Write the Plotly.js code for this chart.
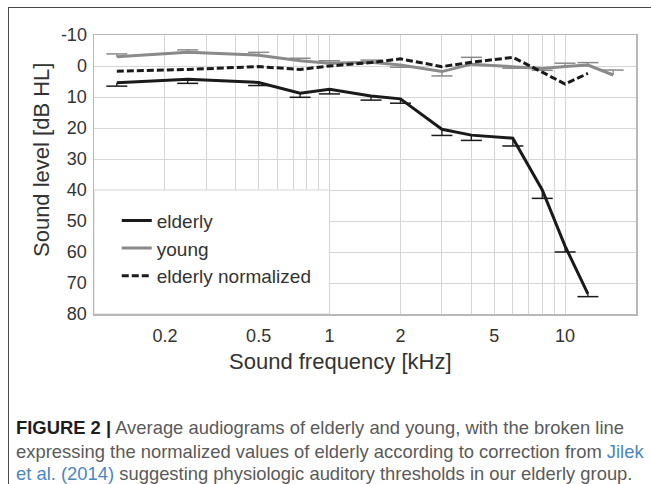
<!DOCTYPE html>
<html>
<head>
<meta charset="utf-8">
<script src="https://cdn.plot.ly/plotly-3.0.1.min.js"></script>
<style>
  html, body { margin: 0; padding: 0; background: #fff; }
  #wrap { position: relative; width: 651px; height: 484px; overflow: hidden; }
  #chart { position: absolute; left: 0; top: 0; width: 651px; height: 484px; }
  #frame { position: absolute; left: 8px; top: 7px; width: 660px; height: 500px;
           border-left: 1.5px solid #4a4a4a; border-top: 1.5px solid #4a4a4a; }
  .cap { position: absolute; left: 16px; font-family: "Liberation Sans", Arial, sans-serif;
         font-size: 18.4px; color: #5a5a5a; white-space: nowrap; line-height: 18px; }
  .cap b { color: #1e1e1e; }
  .cap .ref { color: #4a86c5; }
</style>
</head>
<body>
<div id="wrap">
  <div id="frame"></div>
  <div id="chart"></div>
  <div class="cap" style="top:419px"><b>FIGURE 2 |</b> Average audiograms of elderly and young, with the broken line</div>
  <div class="cap" style="top:443px">expressing the normalized values of elderly according to correction from <span class="ref">Jilek</span></div>
  <div class="cap" style="top:465px"><span class="ref">et al. (2014)</span> suggesting physiologic auditory thresholds in our elderly group.</div>
</div>
<script>
// ---- data (kHz, dB HL) ----
const freqsElderly = [0.125, 0.25, 0.5, 0.75, 1, 1.5, 2, 3, 4, 6, 8, 10, 12.5];
const elderly      = [5.4, 4.3, 5.3, 8.8, 7.5, 9.7, 10.6, 20.4, 22.3, 23.3, 40.0, 58.1, 73.5];
const elderlyErr   = [1.1, 1.3, 1.0, 1.3, 1.5, 1.3, 1.4, 2.0, 1.7, 2.5, 2.7, 1.9, 0.9];

const freqsYoung   = [0.125, 0.25, 0.5, 0.75, 1, 1.5, 2, 3, 4, 6, 8, 10, 12.5, 16];
const young        = [-3.0, -4.4, -3.5, -1.7, -0.9, -1.2, -0.3, 1.8, -0.6, 0.2, 0.8, 0.2, -0.3, 2.9];
const youngErr     = [-0.9, -0.8, -0.9, -0.8, -0.8, -0.7, 0.7, 1.4, -2.2, 0.5, 0.6, -1.1, -0.8, -1.6];

const normalized   = [1.7, 1.1, 0.2, 1.1, 0.0, -1.1, -2.3, 0.2, -1.2, -2.8, 2.0, 5.8, 2.4];

const xTickVals  = [0.2, 0.5, 1, 2, 5, 10];
const xTickText  = ['0.2', '0.5', '1', '2', '5', '10'];
const xGridVals  = [0.1,0.2,0.3,0.4,0.5,0.6,0.7,0.8,0.9,1,2,3,4,5,6,7,8,9,10,20];
const yTickVals  = [-10, 0, 10, 20, 30, 40, 50, 60, 70, 80];
const yTickText  = ['-10', '0', '10', '20', '30', '40', '50', '60', '70', '80'];
const legendBox  = { x0: 0.1, x1: 1, y0: 40, y1: 80 };

const FONT = '"Liberation Sans", Arial, sans-serif';
const BLACK = '#1a1a1a', GRAY = '#8a8a8a';

function errSegments(xs, ys, es) {
  const x = [], y = [];
  xs.forEach((f, i) => { x.push(f, f, null); y.push(ys[i], ys[i] + es[i], null); });
  return { x, y };
}
function errEnds(ys, es) { return ys.map((v, i) => v + es[i]); }

const eSeg = errSegments(freqsElderly, elderly, elderlyErr);
const ySeg = errSegments(freqsYoung, young, youngErr);

const traces = [
  { x: eSeg.x, y: eSeg.y, mode: 'lines', line: { color: BLACK, width: 1.3 }, showlegend: false, hoverinfo: 'skip' },
  { x: freqsElderly, y: errEnds(elderly, elderlyErr), mode: 'markers', showlegend: false, hoverinfo: 'skip',
    marker: { symbol: 'line-ew', size: 15, line: { color: BLACK, width: 1.5 } } },
  { x: ySeg.x, y: ySeg.y, mode: 'lines', line: { color: GRAY, width: 1.3 }, showlegend: false, hoverinfo: 'skip' },
  { x: freqsYoung, y: errEnds(young, youngErr), mode: 'markers', showlegend: false, hoverinfo: 'skip',
    marker: { symbol: 'line-ew', size: 15, line: { color: GRAY, width: 1.5 } } },
  { x: freqsElderly, y: elderly, name: 'elderly', mode: 'lines', line: { color: BLACK, width: 3 } },
  { x: freqsYoung, y: young, name: 'young', mode: 'lines', line: { color: GRAY, width: 3 } },
  { x: freqsElderly, y: normalized, name: 'elderly normalized', mode: 'lines',
    line: { color: BLACK, width: 3, dash: '7px,3px' } }
];

const layout = {
  width: 651, height: 484,
  margin: { l: 94, r: 15, t: 35, b: 170 },
  paper_bgcolor: 'rgba(0,0,0,0)', plot_bgcolor: '#fff',
  font: { family: FONT, color: '#333' },
  showlegend: true,
  legend: { x: 0.042, xanchor: 'left', y: 0.403, yanchor: 'top', bgcolor: 'rgba(0,0,0,0)',
            font: { family: FONT, size: 19, color: '#333' }, tracegroupgap: 0 },
  xaxis: {
    type: 'log', range: [-1, Math.log10(20)],
    tickmode: 'array', tickvals: xTickVals, ticktext: xTickText,
    tickfont: { size: 18, color: '#333' }, ticks: '', ticklabelstandoff: 5,
    showgrid: true, gridcolor: '#d6d6d6', gridwidth: 1,
    minor: { tickmode: 'array', tickvals: xGridVals, showgrid: true, gridcolor: '#d6d6d6', gridwidth: 1, ticks: '' },
    showline: true, mirror: true, linecolor: '#b8b8b8', linewidth: 1.5,
    zeroline: false
  },
  yaxis: {
    range: [80, -10], tickmode: 'array', tickvals: yTickVals, ticktext: yTickText,
    tickfont: { size: 18, color: '#333' }, ticks: '', ticklabelstandoff: 2,
    showgrid: true, gridcolor: '#d6d6d6', gridwidth: 1, zeroline: false,
    showline: true, mirror: true, linecolor: '#b8b8b8', linewidth: 1.5
  },
  annotations: [
    { text: 'Sound frequency [kHz]', xref: 'paper', yref: 'paper', x: 0.4557, y: -0.1685,
      xanchor: 'center', yanchor: 'middle', showarrow: false, font: { size: 22, color: '#333' } },
    { text: 'Sound level [dB HL]', xref: 'paper', yref: 'paper', x: -0.0959, y: 0.552, textangle: -90,
      xanchor: 'center', yanchor: 'middle', showarrow: false, font: { size: 22, color: '#333' } }
  ],
  shapes: [
    { type: 'rect', xref: 'x', yref: 'y', x0: legendBox.x0, x1: legendBox.x1, y0: legendBox.y0, y1: legendBox.y1,
      layer: 'between', fillcolor: '#fff', line: { color: '#d6d6d6', width: 1 } }
  ]
};

Plotly.newPlot('chart', traces, layout, { staticPlot: true, displayModeBar: false });
</script>
</body>
</html>
